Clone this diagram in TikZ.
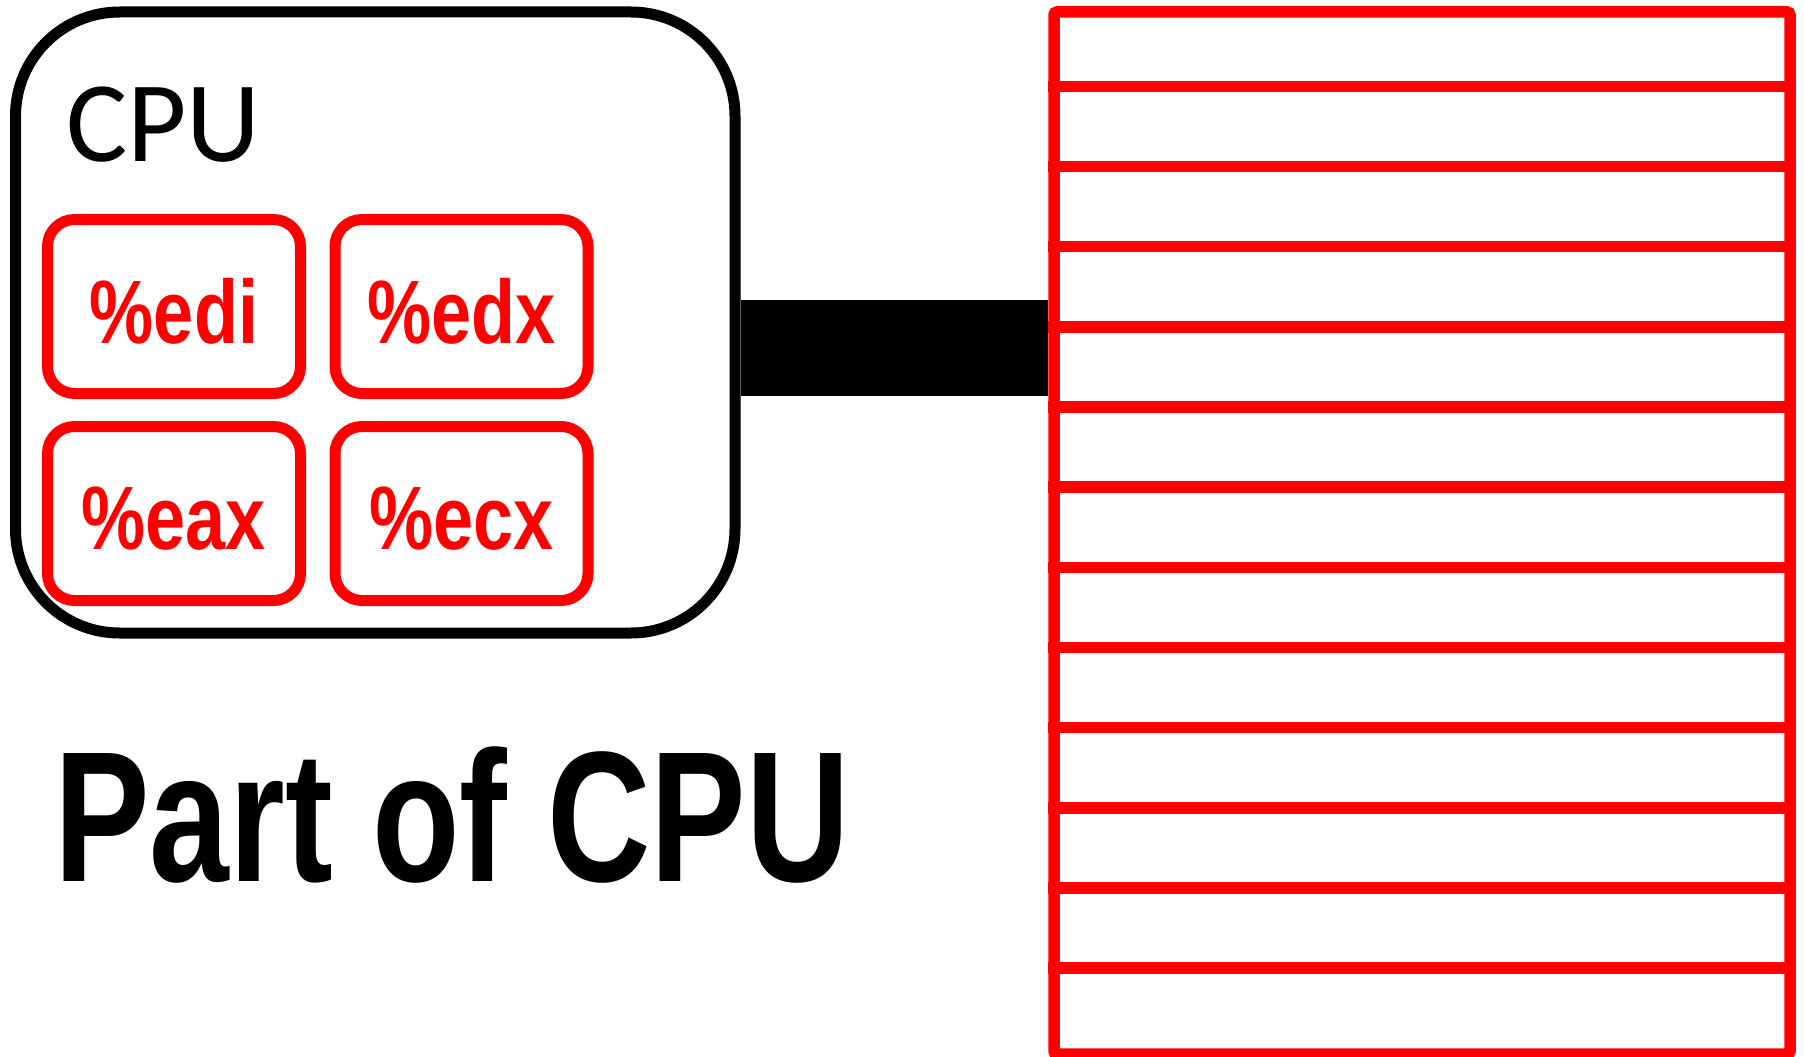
\documentclass[tikz,border=0pt]{standalone}
\usepackage{fontspec}
\usetikzlibrary{calc}
\newfontfamily\cpufont{Carlito}
\newfontfamily\regfont[FakeStretch=0.80]{Liberation Sans Bold}
\newfontfamily\titlefont[FakeStretch=0.77]{Liberation Sans Bold}
\definecolor{regred}{RGB}{255,0,0}
\tikzset{
  cpubox/.style={draw=black, line width=11pt, rounded corners=104pt,
    inner sep=0pt, minimum width=719.5pt, minimum height=621pt},
  regbox/.style={draw=regred, line width=11pt, rounded corners=27pt,
    inner sep=0pt, minimum width=253pt, minimum height=174pt},
  regtext/.style={text=regred, inner sep=0pt,
    font=\regfont\fontsize{90}{100}\selectfont},
  membox/.style={draw=regred, line width=11.5pt, rounded corners=3pt,
    inner sep=0pt, minimum width=736pt, minimum height=1042pt},
  rowline/.style={draw=regred, line width=11.5pt},
  bus/.style={draw=black, line width=96pt}
}
\begin{document}
\begin{tikzpicture}[x=1pt, y=-1pt]
  \useasboundingbox (0,0) rectangle (1804,1057);

  % processor outline with its title
  \node[cpubox] (cpu) at (375.25,322.5) {};
  \node[anchor=base west, inner sep=0pt,
        font=\cpufont\fontsize{115}{120}\selectfont] (cpulabel) at (66,161) {CPU};

  % four registers
  \node[regbox] (edi) at (174,306.5) {};
  \node[regbox] (edx) at (461.5,306.5) {};
  \node[regbox] (eax) at (174,513.5) {};
  \node[regbox] (ecx) at (461.5,513.5) {};
  \node[regtext] (edit) at ($(edi)+(0,5)$) {\%edi};
  \node[regtext] (edxt) at ($(edx)+(0,5)$) {\%edx};
  \node[regtext] (eaxt) at ($(eax)+(0,5)$) {\%eax};
  \node[regtext] (ecxt) at ($(ecx)+(0,5)$) {\%ecx};

  % memory column of 13 cells
  \node[membox] (mem) at (1422,533) {};
  \foreach \i in {1,...,12} {
    \draw[rowline] ($(mem.north west)+(0,\i*80.154)$) -- ($(mem.north east)+(0,\i*80.154)$);
  }

  % bus between processor and memory
  \coordinate (busy) at (0,348);
  \draw[bus] (cpu.east |- busy) -- (mem.west |- busy);

  % caption
  \node[anchor=base west, inner sep=0pt,
        font=\titlefont\fontsize{186}{196}\selectfont] (caption) at (54,881) {Part of CPU};
\end{tikzpicture}
\end{document}
